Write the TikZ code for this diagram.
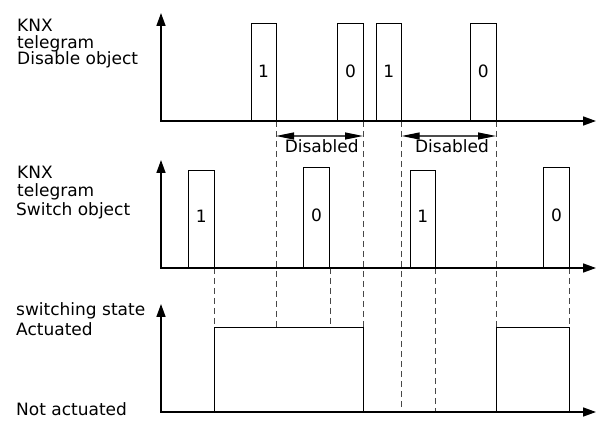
\documentclass[tikz,border=0pt]{standalone}
\usepackage{fontspec}
\setmainfont{DejaVu Sans}
\usetikzlibrary{arrows.meta}
\begin{document}
\begin{tikzpicture}[x=1pt,y=-1pt,
  axis/.style={line width=1.6pt,{Triangle[length=13pt,width=9pt]}-{Triangle[length=13pt,width=9pt]}},
  pulse/.style={line width=0.9pt},
  guide/.style={dash pattern=on 6pt off 4pt,line width=1pt,draw=black!72},
  span/.style={line width=1.1pt,draw=black!70,{Triangle[length=18pt,width=7pt,fill=black,color=black]}-{Triangle[length=18pt,width=7pt,fill=black,color=black]}},
  lbl/.style={font=\fontsize{17}{18}\selectfont,inner sep=0pt,anchor=base west},
  num/.style={font=\fontsize{17}{18}\selectfont,inner sep=0pt}]
\useasboundingbox (0,0) rectangle (597,430);
% axis origins
\coordinate (o1) at (161,121);
\coordinate (o2) at (161,268);
\coordinate (o3) at (161,412);
% dashed guide lines
\draw[guide] (214,268) -- (214,327);
\draw[guide] (276,121) -- (276,327);
\draw[guide] (330,268) -- (330,327);
\draw[guide] (363,121) -- (363,327);
\draw[guide] (401.7,121) -- (401.7,412);
\draw[guide] (435.7,268) -- (435.7,412);
\draw[guide] (496,121) -- (496,327);
\draw[guide] (569.3,268) -- (569.3,327);
% axes
\draw[axis] (161,13) -- (o1) -- (596,121);
\draw[axis] (161,160) -- (o2) -- (596,268);
\draw[axis] (161,304) -- (o3) -- (596,412);
% row 1 pulses
\draw[pulse] (251,121) |- (276,23) -- (276,121);
\draw[pulse] (337.7,121) |- (363.3,23) -- (363.3,121);
\draw[pulse] (376,121) |- (401.7,23) -- (401.7,121);
\draw[pulse] (470.3,121) |- (496,23) -- (496,121);
\node[num] (d1) at (263.5,71) {1};
\node[num] (d2) at (350.5,71) {0};
\node[num] (d3) at (388.8,71) {1};
\node[num] (d4) at (483.2,71) {0};
% row 2 pulses
\draw[pulse] (188.3,268) |- (214,170) -- (214,268);
\draw[pulse] (303.3,268) |- (329.7,167.7) -- (329.7,268);
\draw[pulse] (410,268) |- (435.7,170) -- (435.7,268);
\draw[pulse] (543.7,268) |- (569.3,167.7) -- (569.3,268);
\node[num] (s1) at (201.2,216) {1};
\node[num] (s2) at (316.5,215) {0};
\node[num] (s3) at (422.8,216) {1};
\node[num] (s4) at (556.5,215) {0};
% switching state
\draw[pulse] (214,412) -- (214,327) -- (363,327) -- (363,412);
\draw[pulse] (496,412) -- (496,327) -- (569.3,327) -- (569.3,412);
% disabled spans
\coordinate (a1) at (276,136);
\coordinate (b1) at (363,136);
\coordinate (a2) at (401.7,136);
\coordinate (b2) at (496,136);
\draw[span] (a1) -- (b1);
\draw[span] (a2) -- (b2);
\node[num,anchor=base] (t1) at (321.7,153) {Disabled};
\node[num,anchor=base] (t2) at (452,153) {Disabled};
% left labels
\node[lbl] (k1) at (17,32) {KNX};
\node[lbl] (k2) at (17,48.5) {telegram};
\node[lbl] (k3) at (17,65) {Disable object};
\node[lbl] (k4) at (17,179) {KNX};
\node[lbl] (k5) at (17,197) {telegram};
\node[lbl] (k6) at (16,215.5) {Switch object};
\node[lbl] (k7) at (16,316) {switching state};
\node[lbl] (k8) at (16,335) {Actuated};
\node[lbl] (k9) at (16,415) {Not actuated};
\end{tikzpicture}
\end{document}
